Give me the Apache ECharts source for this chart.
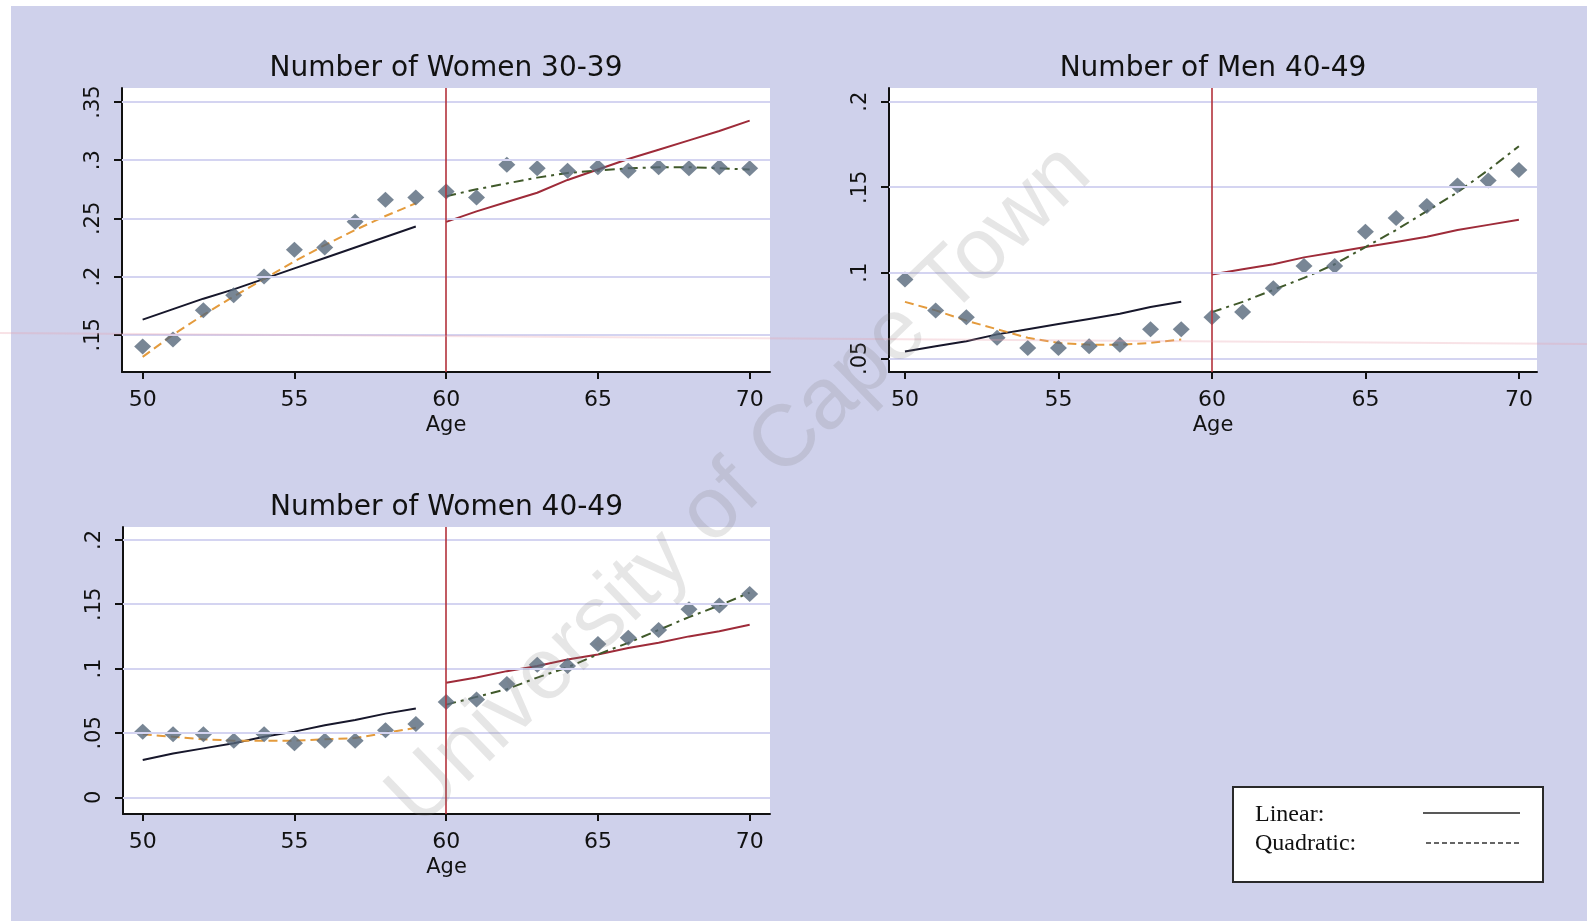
<!DOCTYPE html>
<html>
<head>
<meta charset="utf-8">
<script src="https://cdn.jsdelivr.net/npm/echarts@6/dist/echarts.min.js"></script>
<style>
  html, body { margin: 0; padding: 0; background: #ffffff; }
  #chart { width: 1587px; height: 921px; }
</style>
</head>
<body>
<div id="chart"></div>
<script>
// Ages on the horizontal axis, split at the age-60 cutoff
const agesAll   = [50, 51, 52, 53, 54, 55, 56, 57, 58, 59, 60, 61, 62, 63, 64, 65, 66, 67, 68, 69, 70];
const agesLeft  = [50, 51, 52, 53, 54, 55, 56, 57, 58, 59];
const agesRight = [60, 61, 62, 63, 64, 65, 66, 67, 68, 69, 70];
const xTicks    = [50, 55, 60, 65, 70];
const cutoffAge = 60;

// Panel titles
const titles = ['Number of Women 30-39', 'Number of Men 40-49', 'Number of Women 40-49'];

// Number of Women 30-39
const w3039Means     = [0.140, 0.146, 0.171, 0.184, 0.200, 0.223, 0.225, 0.247, 0.266, 0.268, 0.273, 0.268, 0.296, 0.293, 0.291, 0.294, 0.291, 0.294, 0.293, 0.294, 0.293];
const w3039LinLeft   = [0.163, 0.172, 0.181, 0.189, 0.198, 0.207, 0.216, 0.225, 0.234, 0.243];
const w3039LinRight  = [0.247, 0.256, 0.264, 0.272, 0.283, 0.292, 0.301, 0.309, 0.317, 0.325, 0.334];
const w3039QuadLeft  = [0.131, 0.150, 0.167, 0.183, 0.198, 0.213, 0.227, 0.240, 0.252, 0.263];
const w3039QuadRight = [0.269, 0.275, 0.280, 0.285, 0.289, 0.291, 0.293, 0.294, 0.294, 0.293, 0.292];
const w3039YTicks    = [0.15, 0.2, 0.25, 0.3, 0.35];

// Number of Men 40-49
const m4049Means     = [0.096, 0.078, 0.074, 0.062, 0.056, 0.056, 0.057, 0.058, 0.067, 0.067, 0.074, 0.077, 0.091, 0.104, 0.104, 0.124, 0.132, 0.139, 0.151, 0.154, 0.160];
const m4049LinLeft   = [0.054, 0.057, 0.060, 0.064, 0.067, 0.070, 0.073, 0.076, 0.080, 0.083];
const m4049LinRight  = [0.099, 0.102, 0.105, 0.109, 0.112, 0.115, 0.118, 0.121, 0.125, 0.128, 0.131];
const m4049QuadLeft  = [0.083, 0.078, 0.072, 0.067, 0.062, 0.059, 0.058, 0.058, 0.059, 0.061];
const m4049QuadRight = [0.077, 0.083, 0.090, 0.097, 0.105, 0.115, 0.125, 0.136, 0.147, 0.160, 0.174];
const m4049YTicks    = [0.05, 0.1, 0.15, 0.2];

// Number of Women 40-49
const w4049Means     = [0.051, 0.049, 0.049, 0.044, 0.049, 0.042, 0.044, 0.044, 0.052, 0.057, 0.074, 0.076, 0.088, 0.103, 0.102, 0.119, 0.124, 0.130, 0.146, 0.149, 0.158];
const w4049LinLeft   = [0.029, 0.034, 0.038, 0.042, 0.047, 0.051, 0.056, 0.060, 0.065, 0.069];
const w4049LinRight  = [0.089, 0.093, 0.098, 0.102, 0.107, 0.111, 0.116, 0.120, 0.125, 0.129, 0.134];
const w4049QuadLeft  = [0.049, 0.047, 0.045, 0.044, 0.044, 0.044, 0.045, 0.046, 0.050, 0.054];
const w4049QuadRight = [0.072, 0.078, 0.084, 0.093, 0.101, 0.111, 0.120, 0.130, 0.140, 0.149, 0.159];
const w4049YTicks    = [0, 0.05, 0.1, 0.15, 0.2];

// Legend entries
const legendLabels = ['Linear:', 'Quadratic:'];

// ---- styling ----
const PAGE_BG   = '#cfd1eb';
const GRID_LINE = '#d4d4f1';
const AXIS_COL  = '#111111';
const MARK_COL  = '#56687a';
const LIN_LEFT  = '#17172b';
const LIN_RIGHT = '#9e2b39';
const QUAD_LEFT = '#e49b3d';
const QUAD_RIGHT= '#40592a';
const CUT_COL   = '#b3323b';
const TICK_FONT = 'DejaVu Sans';

const pair = (xs, ys) => xs.map((x, i) => [x, ys[i]]);
const fmtY = v => (Math.abs(v) < 1e-9 ? '0' : String(+v.toFixed(3)).replace(/^0\./, '.'));

const panels = [
  { grid: { left: 122, top: 88, width: 648, height: 284 }, xMin: 49.32, xMax: 70.67, yMin: 0.118, yMax: 0.362,
    yTicks: w3039YTicks, means: w3039Means, linL: w3039LinLeft, linR: w3039LinRight, quadL: w3039QuadLeft, quadR: w3039QuadRight },
  { grid: { left: 889, top: 88, width: 648, height: 284 }, xMin: 49.48, xMax: 70.59, yMin: 0.042, yMax: 0.208,
    yTicks: m4049YTicks, means: m4049Means, linL: m4049LinLeft, linR: m4049LinRight, quadL: m4049QuadLeft, quadR: m4049QuadRight },
  { grid: { left: 123, top: 527, width: 647, height: 287 }, xMin: 49.35, xMax: 70.67, yMin: -0.013, yMax: 0.210,
    yTicks: w4049YTicks, means: w4049Means, linL: w4049LinLeft, linR: w4049LinRight, quadL: w4049QuadLeft, quadR: w4049QuadRight }
];

const grids = [], xAxes = [], yAxes = [], series = [], graphics = [];

// page background: white margin strips on the left and top edges
graphics.push({ type: 'rect', z: -10, silent: true, shape: { x: 0, y: 0, width: 1587, height: 6 }, style: { fill: '#ffffff' } });
graphics.push({ type: 'rect', z: -10, silent: true, shape: { x: 0, y: 0, width: 11, height: 921 }, style: { fill: '#ffffff' } });

panels.forEach((p, i) => {
  grids.push(Object.assign({ show: true, backgroundColor: '#ffffff', borderWidth: 0 }, p.grid));

  xAxes.push({
    gridIndex: i, type: 'value', min: p.xMin, max: p.xMax,
    axisLine: { show: true, onZero: false, lineStyle: { color: AXIS_COL, width: 2 } },
    axisTick: { show: true, customValues: xTicks, length: 7, lineStyle: { color: AXIS_COL, width: 2 } },
    axisLabel: { customValues: xTicks, fontSize: 22, fontFamily: TICK_FONT, color: AXIS_COL, margin: 17 },
    splitLine: { show: false },
    name: 'Age', nameLocation: 'middle', nameGap: 43,
    nameTextStyle: { fontSize: 21, fontFamily: TICK_FONT, color: AXIS_COL }
  });

  yAxes.push({
    gridIndex: i, type: 'value', min: p.yMin, max: p.yMax,
    axisLine: { show: true, onZero: false, lineStyle: { color: AXIS_COL, width: 2 } },
    axisTick: { show: true, customValues: p.yTicks, length: 8, lineStyle: { color: AXIS_COL, width: 2 } },
    axisLabel: { customValues: p.yTicks, rotate: 90, fontSize: 21, fontFamily: TICK_FONT, color: AXIS_COL, margin: 18, formatter: fmtY },
    splitLine: { show: false }
  });

  // horizontal reference lines at the labelled values
  series.push({
    type: 'line', xAxisIndex: i, yAxisIndex: i, data: [], z: 1, silent: true,
    markLine: { silent: true, symbol: 'none', label: { show: false }, animation: false,
      lineStyle: { color: GRID_LINE, width: 2, type: 'solid' },
      data: p.yTicks.map(v => ({ yAxis: v })) }
  });
  // age-60 cutoff
  series.push({
    type: 'line', xAxisIndex: i, yAxisIndex: i, data: [], z: 2, silent: true,
    markLine: { silent: true, symbol: 'none', label: { show: false }, animation: false,
      lineStyle: { color: CUT_COL, width: 1.6, type: 'solid' },
      data: [{ xAxis: cutoffAge }] }
  });

  const fit = (xs, ys, color, type) => ({
    type: 'line', xAxisIndex: i, yAxisIndex: i, data: pair(xs, ys), z: 3,
    showSymbol: false, symbol: 'none', animation: false, silent: true,
    lineStyle: { color: color, width: 2, type: type }
  });
  series.push(fit(agesLeft,  p.linL,  LIN_LEFT,  'solid'));
  series.push(fit(agesRight, p.linR,  LIN_RIGHT, 'solid'));
  series.push(fit(agesLeft,  p.quadL, QUAD_LEFT, [9, 5]));
  series.push(fit(agesRight, p.quadR, QUAD_RIGHT, [10, 5, 3, 5]));

  series.push({
    type: 'scatter', xAxisIndex: i, yAxisIndex: i, data: pair(agesAll, p.means), z: 4,
    symbol: 'diamond', symbolSize: [17, 16], animation: false, silent: true,
    itemStyle: { color: MARK_COL }
  });

  // panel title, centred over the plot area
  graphics.push({
    type: 'text', silent: true, z: 5,
    x: p.grid.left + p.grid.width / 2, y: p.grid.top - 19,
    style: { text: titles[i], fill: '#111111', font: '28px "DejaVu Sans"', align: 'center', verticalAlign: 'middle' }
  });
});

// legend box
graphics.push({ type: 'rect', silent: true, z: 5, shape: { x: 1233, y: 787, width: 310, height: 95 },
  style: { fill: '#ffffff', stroke: '#2a2a2a', lineWidth: 2 } });
graphics.push({ type: 'text', silent: true, z: 6, x: 1255, y: 815,
  style: { text: legendLabels[0], fill: '#111111', font: '24px "Liberation Serif"', align: 'left', verticalAlign: 'middle' } });
graphics.push({ type: 'text', silent: true, z: 6, x: 1255, y: 844,
  style: { text: legendLabels[1], fill: '#111111', font: '24px "Liberation Serif"', align: 'left', verticalAlign: 'middle' } });
graphics.push({ type: 'line', silent: true, z: 6, shape: { x1: 1423, y1: 813, x2: 1520, y2: 813 },
  style: { stroke: '#222222', lineWidth: 1.6 } });
graphics.push({ type: 'line', silent: true, z: 6, shape: { x1: 1426, y1: 843, x2: 1520, y2: 843 },
  style: { stroke: '#333333', lineWidth: 1.4, lineDash: [5, 3] } });

// faint pink streak across the page
graphics.push({ type: 'line', silent: true, z: 7, shape: { x1: 0, y1: 333, x2: 1587, y2: 344 },
  style: { stroke: 'rgba(232,160,172,0.3)', lineWidth: 2 } });

// diagonal watermark
graphics.push({
  type: 'text', silent: true, z: 8, x: 740, y: 486, rotation: 44 * Math.PI / 180,
  style: { text: 'University of Cape Town', fill: 'rgba(120,120,120,0.19)', font: '87px "Liberation Sans"',
    align: 'center', verticalAlign: 'middle' }
});

const chart = echarts.init(document.getElementById('chart'), null, { renderer: 'canvas' });
chart.setOption({
  backgroundColor: PAGE_BG,
  animation: false,
  grid: grids,
  xAxis: xAxes,
  yAxis: yAxes,
  series: series,
  graphic: { elements: graphics }
});
</script>
</body>
</html>
